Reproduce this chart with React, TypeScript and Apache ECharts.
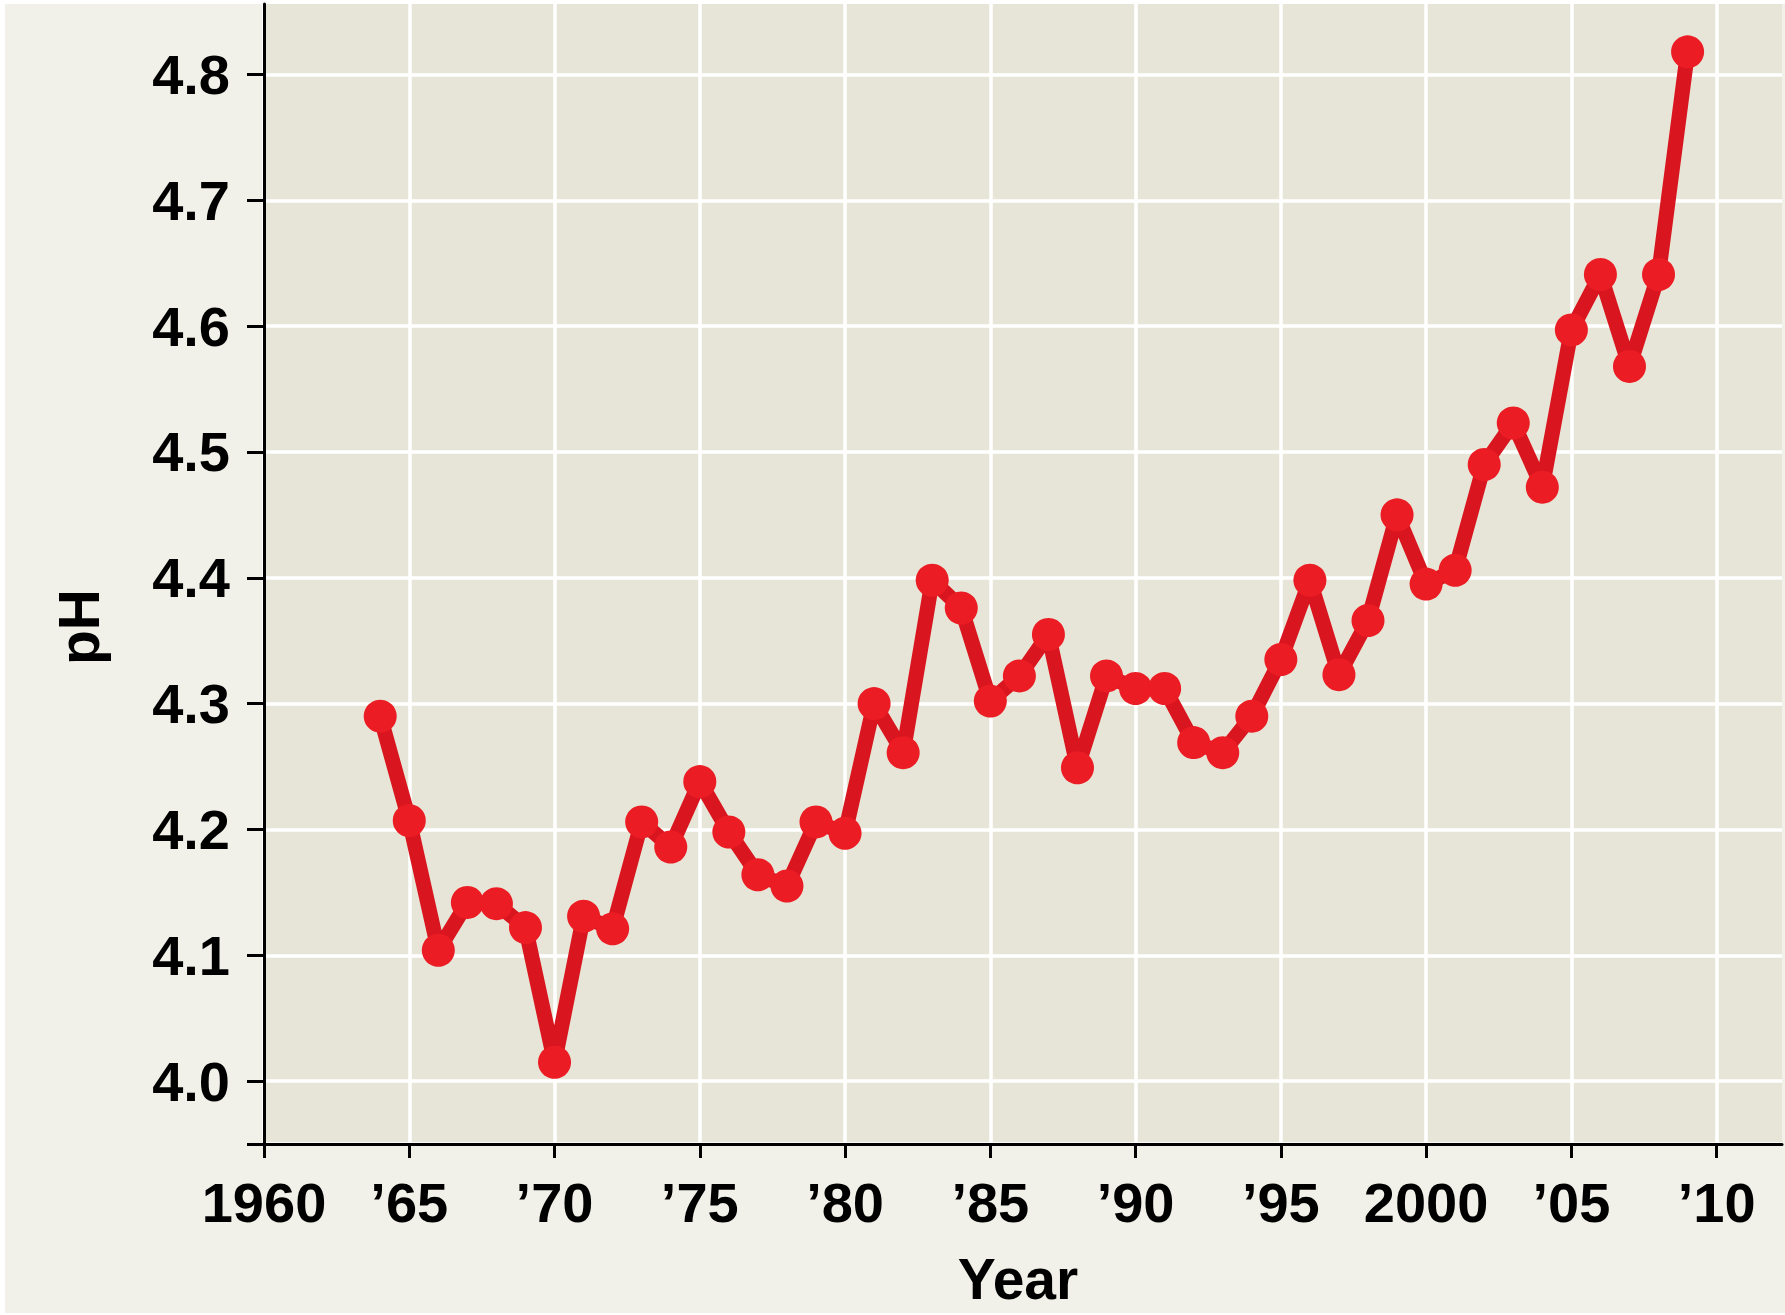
import React, { useEffect, useRef } from "react";
import * as echarts from "echarts";

const years = [
  1964, 1965, 1966, 1967, 1968, 1969, 1970, 1971, 1972, 1973, 1974, 1975, 1976,
  1977, 1978, 1979, 1980, 1981, 1982, 1983, 1984, 1985, 1986, 1987, 1988, 1989,
  1990, 1991, 1992, 1993, 1994, 1995, 1996, 1997, 1998, 1999, 2000, 2001, 2002,
  2003, 2004, 2005, 2006, 2007, 2008, 2009,
];
const phValues = [
  4.29, 4.207, 4.104, 4.142, 4.141, 4.122, 4.015, 4.131, 4.121, 4.206, 4.186,
  4.238, 4.198, 4.164, 4.155, 4.206, 4.197, 4.3, 4.261, 4.398, 4.376, 4.302,
  4.322, 4.355, 4.249, 4.322, 4.312, 4.312, 4.269, 4.261, 4.29, 4.335, 4.398,
  4.323, 4.366, 4.45, 4.395, 4.406, 4.49, 4.523, 4.472, 4.597, 4.641, 4.568,
  4.641, 4.818,
];
const xTickYears = [1960, 1965, 1970, 1975, 1980, 1985, 1990, 1995, 2000, 2005, 2010];
const xTickLabels = ["1960", "\u201965", "\u201970", "\u201975", "\u201980", "\u201985", "\u201990", "\u201995", "2000", "\u201905", "\u201910"];
const yTickValues = [4.0, 4.1, 4.2, 4.3, 4.4, 4.5, 4.6, 4.7, 4.8];

const FONT = "'Liberation Sans', Arial, sans-serif";

export default function App() {
  const ref = useRef<HTMLDivElement>(null);
  useEffect(() => {
    if (!ref.current) return;
    const chart = echarts.init(ref.current, undefined, { renderer: "svg" });
    const data = years.map((y, i) => [y, phValues[i]]);
    chart.setOption({
      animation: false,
      backgroundColor: "#ffffff",
      graphic: [
        {
          type: "rect",
          z: -10,
          silent: true,
          shape: { x: 5, y: 4, width: 1780, height: 1309 },
          style: { fill: "#f2f1e9" },
        },
        {
          type: "text",
          x: 1018,
          y: 1279,
          style: {
            text: "Year",
            font: `bold 57px ${FONT}`,
            fill: "#000",
            align: "center",
            verticalAlign: "middle",
          },
        },
        {
          type: "text",
          x: 79,
          y: 627,
          rotation: Math.PI / 2,
          style: {
            text: "pH",
            font: `bold 57px ${FONT}`,
            fill: "#000",
            align: "center",
            verticalAlign: "middle",
          },
        },
      ],
      grid: {
        left: 264,
        right: 3,
        top: 4,
        bottom: 171,
        show: true,
        backgroundColor: "#e7e5d7",
        borderWidth: 0,
      },
      xAxis: {
        type: "value",
        min: 1960,
        max: 2012.25,
        axisLine: { show: true, onZero: false, lineStyle: { color: "#000", width: 3 } },
        axisTick: {
          show: true,
          length: 14,
          lineStyle: { color: "#000", width: 3 },
          customValues: xTickYears,
        },
        axisLabel: {
          customValues: xTickYears,
          margin: 30,
          color: "#000",
          fontSize: 56,
          fontWeight: "bold",
          fontFamily: FONT,
          formatter: (v: number) => {
            const i = xTickYears.indexOf(Math.round(v));
            return i >= 0 ? xTickLabels[i] : "";
          },
        },
        splitLine: { show: true, lineStyle: { color: "#ffffff", width: 3.5 } },
      },
      yAxis: {
        type: "value",
        min: 3.95,
        max: 4.856,
        axisLine: { show: true, onZero: false, lineStyle: { color: "#000", width: 3 } },
        axisTick: {
          show: true,
          length: 17,
          lineStyle: { color: "#000", width: 3 },
          customValues: [3.95, ...yTickValues],
        },
        axisLabel: {
          customValues: yTickValues,
          margin: 34,
          color: "#000",
          fontSize: 56,
          fontWeight: "bold",
          fontFamily: FONT,
          formatter: (v: number) => v.toFixed(1),
        },
        splitLine: { show: true, lineStyle: { color: "#ffffff", width: 3.5 } },
      },
      series: [
        {
          type: "line",
          data,
          symbol: "circle",
          symbolSize: 33,
          lineStyle: { color: "#d9161f", width: 15 },
          itemStyle: { color: "#ec1c24" },
          z: 5,
        },
      ],
    });
    return () => chart.dispose();
  }, []);
  return (
    <div
      ref={ref}
      style={{ position: "fixed", left: 0, top: 0, width: 1785, height: 1315 }}
    />
  );
}
